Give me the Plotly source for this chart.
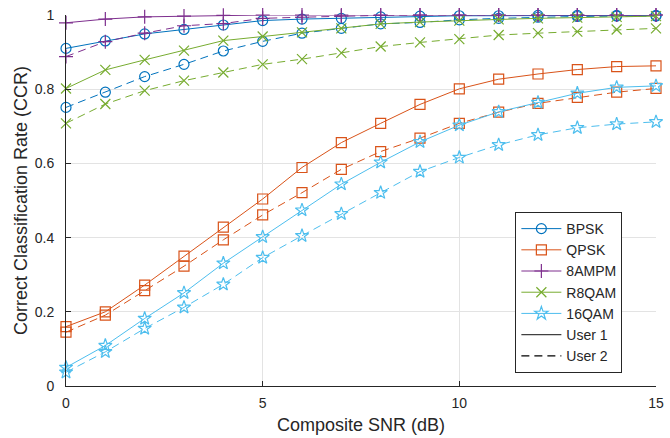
import plotly.graph_objects as go

snr = list(range(16))

bpsk_u1 = [0.910, 0.930, 0.949, 0.961, 0.973, 0.985, 0.989, 0.991, 0.995, 0.997, 0.998, 0.998, 0.999, 0.999, 0.999, 0.999]
bpsk_u2 = [0.751, 0.792, 0.834, 0.867, 0.903, 0.929, 0.951, 0.964, 0.976, 0.980, 0.987, 0.991, 0.994, 0.996, 0.997, 0.997]
qpsk_u1 = [0.160, 0.200, 0.272, 0.350, 0.428, 0.504, 0.589, 0.656, 0.708, 0.759, 0.801, 0.827, 0.841, 0.853, 0.861, 0.863]
qpsk_u2 = [0.145, 0.191, 0.257, 0.323, 0.394, 0.461, 0.521, 0.584, 0.632, 0.668, 0.708, 0.738, 0.762, 0.778, 0.792, 0.802]
ampm_u1 = [0.979, 0.989, 0.995, 0.997, 0.999, 1.0, 1.0, 1.0, 1.0, 1.0, 1.0, 1.0, 1.0, 1.0, 1.0, 1.0]
ampm_u2 = [0.888, 0.928, 0.951, 0.971, 0.977, 0.991, 0.994, 0.997, 0.999, 1.0, 1.0, 1.0, 1.0, 1.0, 1.0, 1.0]
r8qam_u1 = [0.802, 0.852, 0.879, 0.904, 0.931, 0.942, 0.953, 0.964, 0.976, 0.981, 0.985, 0.988, 0.991, 0.993, 0.995, 0.997]
r8qam_u2 = [0.708, 0.760, 0.796, 0.823, 0.845, 0.867, 0.881, 0.898, 0.915, 0.926, 0.935, 0.946, 0.951, 0.955, 0.961, 0.964]
qam16_u1 = [0.050, 0.109, 0.182, 0.251, 0.331, 0.402, 0.474, 0.544, 0.603, 0.658, 0.703, 0.739, 0.764, 0.789, 0.805, 0.809]
qam16_u2 = [0.037, 0.092, 0.155, 0.212, 0.274, 0.346, 0.405, 0.464, 0.521, 0.578, 0.616, 0.650, 0.677, 0.696, 0.706, 0.712]

x_ticks = [0, 5, 10, 15]
y_ticks = [0, 0.2, 0.4, 0.6, 0.8, 1]
y_ticktext = ["0", "0.2", "0.4", "0.6", "0.8", "1"]

names = ["BPSK", "QPSK", "8AMPM", "R8QAM", "16QAM"]
colors = ["#0072BD", "#D95319", "#7E2F8E", "#77AC30", "#4DBEEE"]
symbols = ["circle-open", "square-open", "cross-thin-open", "x-thin-open", "star-open"]
u1 = [bpsk_u1, qpsk_u1, ampm_u1, r8qam_u1, qam16_u1]
u2 = [bpsk_u2, qpsk_u2, ampm_u2, r8qam_u2, qam16_u2]

FONT = "Liberation Sans, Arial, Helvetica, sans-serif"
DASH = "8px,5px"

fig = go.Figure()
for n, c, s, a, b in zip(names, colors, symbols, u1, u2):
    fig.add_trace(go.Scatter(x=snr, y=a, mode="lines+markers", name=n,
                             line=dict(color=c, width=1),
                             marker=dict(symbol=s, size=10, color=c, line=dict(color=c, width=1.2)),
                             cliponaxis=False, showlegend=True))
    fig.add_trace(go.Scatter(x=snr, y=b, mode="lines+markers", name=n + " (User 2)",
                             line=dict(color=c, width=1, dash=DASH),
                             marker=dict(symbol=s, size=10, color=c, line=dict(color=c, width=1.2)),
                             cliponaxis=False, showlegend=False))

fig.add_trace(go.Scatter(x=[None], y=[None], mode="lines", name="User 1",
                         line=dict(color="#404040", width=1.2)))
fig.add_trace(go.Scatter(x=[None], y=[None], mode="lines", name="User 2",
                         line=dict(color="#000000", width=1.2, dash=DASH)))

axis_common = dict(showgrid=True, gridcolor="#e3e3e3", gridwidth=1,
                   showline=True, linecolor="#262626", linewidth=1,
                   ticks="inside", ticklen=5, tickcolor="#262626",
                   zeroline=False, mirror=False, automargin=False,
                   tickfont=dict(family=FONT, size=14, color="#262626"))

fig.update_layout(
    width=670, height=438,
    margin=dict(l=66, r=14, t=15, b=52),
    paper_bgcolor="white", plot_bgcolor="white",
    font=dict(family=FONT, size=14, color="#262626"),
    xaxis=dict(range=[0, 15], tickvals=x_ticks, ticklabelstandoff=4,
               title=dict(text="Composite SNR (dB)", font=dict(size=18), standoff=8),
               **axis_common),
    yaxis=dict(range=[0, 1], tickvals=y_ticks, ticktext=y_ticktext, ticklabelstandoff=8,
               title=dict(text="Correct Classification Rate (CCR)", font=dict(size=18), standoff=2),
               **axis_common),
    legend=dict(x=0.943, y=0.035, xanchor="right", yanchor="bottom",
                bgcolor="white", bordercolor="#262626", borderwidth=1,
                font=dict(size=14), tracegroupgap=0, itemwidth=40),
)

fig.write_html("out.html", config={"displayModeBar": False},
               post_script="document.body.style.margin='0';document.body.style.overflow='hidden';")
